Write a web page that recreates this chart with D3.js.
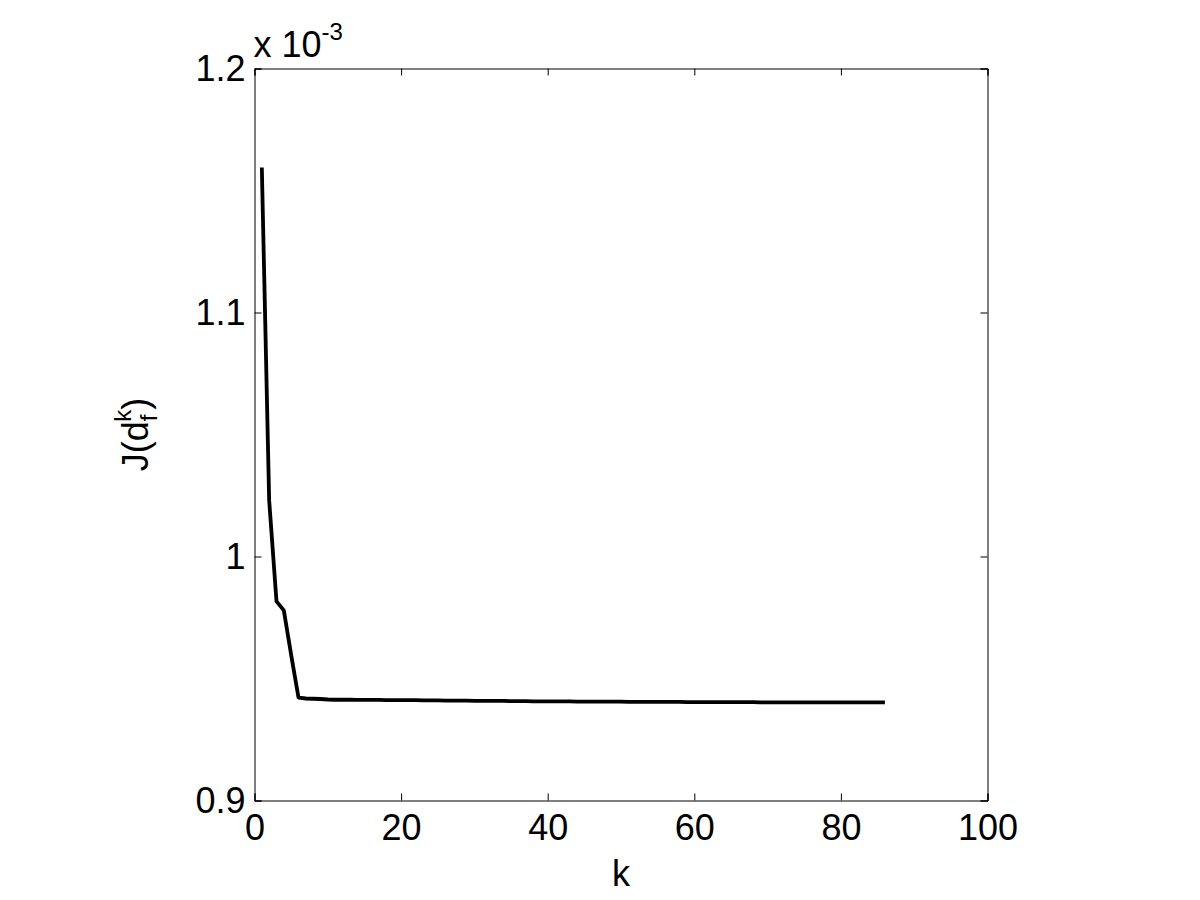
<!DOCTYPE html>
<html>
<head>
<meta charset="utf-8">
<script src="https://cdn.jsdelivr.net/npm/d3@7"></script>
<style>
  html, body { margin: 0; padding: 0; background: #fff; }
  svg { display: block; }
  text { font-family: "Liberation Sans", Arial, Helvetica, sans-serif; fill: #000; }
</style>
</head>
<body>
<svg id="chart" width="1200" height="900"></svg>
<script>
// ---- data (J values in units of 1e-3) ----
const kValues = [1,2,3,4,5,6,7,8,9,10,11,12,13,14,15,16,17,18,19,20,21,22,23,24,25,26,27,28,29,30,
  31,32,33,34,35,36,37,38,39,40,41,42,43,44,45,46,47,48,49,50,51,52,53,54,55,56,57,58,59,60,
  61,62,63,64,65,66,67,68,69,70,71,72,73,74,75,76,77,78,79,80,81,82,83,84,85,86];
const jValues = [1.1594, 1.0230, 0.9816, 0.9779, 0.9597, 0.9422, 0.9418, 0.9417, 0.9416, 0.9414,
  0.9413, 0.9413, 0.9413, 0.9412, 0.9412, 0.9412, 0.9412, 0.9411, 0.9411, 0.9411,
  0.9411, 0.9411, 0.9410, 0.9410, 0.9410, 0.9409, 0.9409, 0.9409, 0.9409, 0.9408,
  0.9408, 0.9408, 0.9408, 0.9408, 0.9407, 0.9407, 0.9407, 0.9406, 0.9406, 0.9406,
  0.9406, 0.9406, 0.9406, 0.9405, 0.9405, 0.9405, 0.9405, 0.9405, 0.9405, 0.9405,
  0.9404, 0.9404, 0.9404, 0.9404, 0.9404, 0.9404, 0.9404, 0.9404, 0.9403, 0.9403,
  0.9403, 0.9403, 0.9403, 0.9403, 0.9403, 0.9403, 0.9403, 0.9403, 0.9402, 0.9402,
  0.9402, 0.9402, 0.9402, 0.9402, 0.9402, 0.9402, 0.9402, 0.9402, 0.9402, 0.9402,
  0.9402, 0.9402, 0.9402, 0.9402, 0.9402, 0.9402];
const xTicks = [0, 20, 40, 60, 80, 100];
const yTicks = [0.9, 1.0, 1.1, 1.2];
const yTickLabels = ["0.9", "1", "1.1", "1.2"];
const xDomain = [0, 100];
const yDomain = [0.9, 1.2];
const xLabel = "k";
const scaleExponent = "-3";

// ---- layout ----
const L = 254.5, R = 987.5, T = 68.5, B = 800.5;
const svg = d3.select("#chart");
svg.append("rect").attr("width", 1200).attr("height", 900).attr("fill", "#fff");

const x = d3.scaleLinear().domain(xDomain).range([L, R]);
const y = d3.scaleLinear().domain(yDomain).range([B, T]);

const fontSize = 36;
const tickLen = 7;

// bottom axis
const gB = svg.append("g").attr("transform", `translate(0,${B})`)
  .call(d3.axisBottom(x).tickValues(xTicks).tickSize(-tickLen).tickPadding(14).tickFormat(d3.format("d")));
// left axis
const gL = svg.append("g").attr("transform", `translate(${L},0)`)
  .call(d3.axisLeft(y).tickValues(yTicks).tickSize(-tickLen).tickPadding(9)
    .tickFormat((d, i) => yTickLabels[i]));
// top axis (ticks only)
const gT = svg.append("g").attr("transform", `translate(0,${T})`)
  .call(d3.axisTop(x).tickValues(xTicks).tickSize(-tickLen).tickFormat(""));
// right axis (ticks only)
const gR = svg.append("g").attr("transform", `translate(${R},0)`)
  .call(d3.axisRight(y).tickValues(yTicks).tickSize(-tickLen).tickFormat(""));

[gB, gL, gT, gR].forEach(g => {
  g.select(".domain").attr("stroke", "#000").attr("stroke-width", 1);
  g.selectAll(".tick line").attr("stroke", "#000").attr("stroke-width", 1);
  g.selectAll(".tick text").attr("font-size", fontSize)
    .attr("font-family", '"Liberation Sans", Arial, sans-serif').attr("fill", "#000");
});
gB.selectAll(".tick text").attr("dy", "0.71em");

// exponent label
const expT = svg.append("text").attr("x", L - 1).attr("y", 57).attr("font-size", fontSize);
expT.append("tspan").text("x 10");
expT.append("tspan").attr("font-size", 24).attr("dy", -17).text(scaleExponent);

// x label
svg.append("text").attr("x", (L + R) / 2).attr("y", 886).attr("text-anchor", "middle")
  .attr("font-size", fontSize).text(xLabel);

// y label J(d_f^k)
const yl = svg.append("text")
  .attr("transform", `translate(148,${(T + B) / 2}) rotate(-90)`)
  .attr("text-anchor", "middle").attr("font-size", fontSize);
yl.append("tspan").text("J(d");
yl.append("tspan").attr("font-size", 24).attr("dy", 9).text("f");
yl.append("tspan").attr("font-size", 24).attr("dx", -7).attr("dy", -26).text("k");
yl.append("tspan").attr("dy", 17).text(")");

// data line
const data = kValues.map((k, i) => ({ k, v: jValues[i] }));
svg.append("path").datum(data)
  .attr("fill", "none").attr("stroke", "#000").attr("stroke-width", 3.8)
  .attr("stroke-linejoin", "round")
  .attr("d", d3.line().x(d => x(d.k)).y(d => y(d.v)));
</script>
</body>
</html>
